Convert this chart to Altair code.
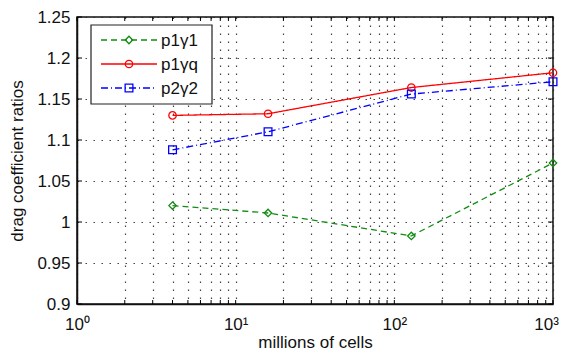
import altair as alt
import pandas as pd

# ---- data ----
cells = [4, 16, 128, 1000]
p1v1 = [1.020, 1.011, 0.983, 1.072]
p1vq = [1.130, 1.132, 1.164, 1.182]
p2v2 = [1.088, 1.110, 1.156, 1.171]

series_names = ["p1γ1", "p1γq", "p2γ2"]
series_values = [p1v1, p1vq, p2v2]
series_colors = ["#108c10", "#ff0000", "#0000ff"]
series_dash = [[6, 4], [1, 0], [7, 3, 1, 3]]
series_shapes = ["diamond", "circle", "square"]
series_sizes = [55, 55, 60]

x_ticks = [m * k for m in [1, 10, 100] for k in range(1, 10)] + [1000]
y_ticks = [0.9, 0.95, 1.0, 1.05, 1.1, 1.15, 1.2, 1.25]

W, H = 476, 287
FONT = "Liberation Sans"
xs = alt.Scale(type="log", domain=[1, 1000])
ys = alt.Scale(domain=[0.9, 1.25], nice=False, zero=False)

label_expr = ("datum.value == 1 ? '10⁰' : datum.value == 10 ? '10¹' : "
              "datum.value == 100 ? '10²' : datum.value == 1000 ? '10³' : ''")

x_axis = alt.Axis(values=x_ticks, labelExpr=label_expr, grid=True, ticks=False,
                  labelPadding=12, labelOverlap=False, labelFlush=False, labelBound=False,
                  labelOffset={"condition": {"test": "datum.value == 1000", "value": -7},
                               "value": 0},
                  title="millions of cells", titleY=43, titleBaseline="alphabetic")
y_axis = alt.Axis(values=y_ticks, format="~g", grid=True, ticks=False, labelPadding=7,
                  labelOverlap=False, labelFlush=False, labelBound=False,
                  title="drag coefficient ratios", titleX=-60, titleY=H / 2,
                  titleAngle=-90, titleBaseline="middle", titleAlign="center")

layers = []
for i, (name, vals) in enumerate(zip(series_names, series_values)):
    df = pd.DataFrame({"cells": cells, "ratio": vals})
    base = alt.Chart(df).encode(
        x=alt.X("cells:Q", scale=xs, axis=x_axis),
        y=alt.Y("ratio:Q", scale=ys, axis=y_axis),
    )
    layers.append(base.mark_line(color=series_colors[i], strokeDash=series_dash[i],
                                 strokeWidth=1.3))
    layers.append(base.mark_point(shape=series_shapes[i], filled=False,
                                  color=series_colors[i], size=series_sizes[i],
                                  strokeWidth=1.3, opacity=1))

# inside ticks (MATLAB style)
xt = pd.DataFrame({"t": x_ticks})
yt = pd.DataFrame({"t": y_ticks})
tick_x = alt.X("t:Q", scale=xs, axis=x_axis)
tick_y = alt.Y("t:Q", scale=ys, axis=y_axis)
layers.append(alt.Chart(xt).mark_rule(color="black", strokeWidth=1).encode(
    x=tick_x, y=alt.value(H), y2=alt.value(H - 4)))
layers.append(alt.Chart(xt).mark_rule(color="black", strokeWidth=1).encode(
    x=tick_x, y=alt.value(0), y2=alt.value(4)))
layers.append(alt.Chart(yt).mark_rule(color="black", strokeWidth=1).encode(
    y=tick_y, x=alt.value(0), x2=alt.value(5)))
layers.append(alt.Chart(yt).mark_rule(color="black", strokeWidth=1).encode(
    y=tick_y, x=alt.value(W - 5), x2=alt.value(W)))

# legend box
one = pd.DataFrame({"a": [0]})
layers.append(alt.Chart(one).mark_rect(fill="white", stroke="#222", strokeWidth=1.2).encode(
    x=alt.value(14), x2=alt.value(135), y=alt.value(8), y2=alt.value(87)))
rows = [23, 47, 71]
for i, name in enumerate(series_names):
    layers.append(alt.Chart(one).mark_rule(color=series_colors[i], strokeDash=series_dash[i],
                                           strokeWidth=1.3).encode(
        x=alt.value(24), x2=alt.value(80), y=alt.value(rows[i])))
    layers.append(alt.Chart(one).mark_point(shape=series_shapes[i], filled=False,
                                            color=series_colors[i], size=series_sizes[i],
                                            strokeWidth=1.3, opacity=1).encode(
        x=alt.value(52), y=alt.value(rows[i])))
    layers.append(alt.Chart(one).mark_text(font=FONT, fontSize=17, align="left",
                                           baseline="middle", color="#111").encode(
        x=alt.value(84), y=alt.value(rows[i] + 1), text=alt.value(name)))

chart = alt.layer(*layers).properties(
    width=W, height=H,
    padding={"left": 69, "top": 9, "right": 7, "bottom": 48},
    autosize=alt.AutoSizeParams(type="none"),
).configure_view(
    stroke="#111", strokeWidth=1.5
).configure_axis(
    labelFont=FONT, labelFontSize=17, labelColor="#111",
    titleFont=FONT, titleFontSize=17, titleFontWeight="normal", titleColor="#111",
    domainColor="#111", domainWidth=1.5,
    gridColor="#222", gridDash=[1.5, 6.5], gridWidth=1.2, gridOpacity=0.85,
)

chart.save("out.html", embed_options={"renderer": "svg", "actions": False})
